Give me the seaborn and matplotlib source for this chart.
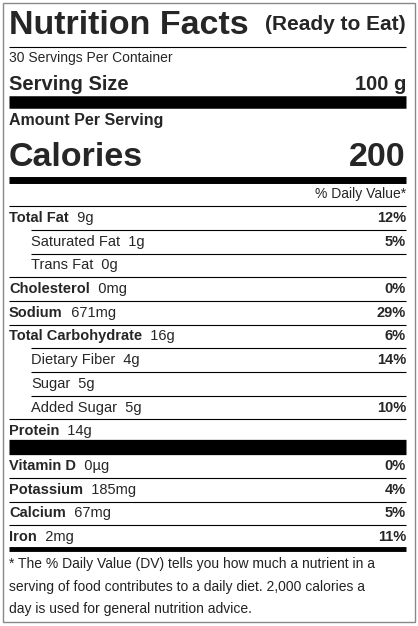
import matplotlib
matplotlib.use("Agg")
import matplotlib.pyplot as plt
import seaborn as sns

nutrients = ["Total Fat", "Saturated Fat", "Trans Fat", "Cholesterol", "Sodium",
             "Total Carbohydrate", "Dietary Fiber", "Sugar", "Added Sugar", "Protein"]
amounts = ["9g", "1g", "0g", "0mg", "671mg", "16g", "4g", "5g", "5g", "14g"]
percents = ["12%", "5%", "", "0%", "29%", "6%", "14%", "", "10%", ""]
indented = [False, True, True, False, False, False, True, True, True, False]

vitamins = ["Vitamin D", "Potassium", "Calcium", "Iron"]
vitamin_amounts = ["0µg", "185mg", "67mg", "2mg"]
vitamin_percents = ["0%", "4%", "5%", "11%"]

footnote = [
    "* The % Daily Value (DV) tells you how much a nutrient in a",
    "serving of food contributes to a daily diet. 2,000 calories a",
    "day is used for general nutrition advice.",
]

sns.set_theme(style="white")
plt.rcParams["font.family"] = ["Liberation Sans", "DejaVu Sans"]

fig = plt.figure(figsize=(4.18, 6.26), dpi=100)
ax = fig.add_axes([0, 0, 1, 1])
ax.set_xlim(0, 418)
ax.set_ylim(626, 0)
ax.axis("off")

LEFT, RIGHT = 9, 406
ax.add_patch(plt.Rectangle((2.5, 2.5), 412, 619, fill=False, lw=1, ec="#888888"))


def rule(y, lw, x0=LEFT):
    ax.plot([x0, RIGHT], [y, y], color="black", lw=lw, solid_capstyle="butt")


ax.text(LEFT, 25, "Nutrition Facts", fontsize=24.5, fontweight="bold", va="center")
ax.text(RIGHT, 25, "(Ready to Eat)", fontsize=15, fontweight="bold", va="center", ha="right")
rule(47, 0.8)
ax.text(LEFT, 58, "30 Servings Per Container", fontsize=10, va="center")
ax.text(LEFT, 84, "Serving Size", fontsize=14.5, fontweight="bold", va="center")
ax.text(RIGHT, 84, "100 g", fontsize=14.5, fontweight="bold", va="center", ha="right")
rule(101.5, 9)
ax.text(LEFT, 121, "Amount Per Serving", fontsize=11.5, fontweight="bold", va="center")
ax.text(LEFT, 157, "Calories", fontsize=24.5, fontweight="bold", va="center")
ax.text(RIGHT, 157, "200", fontsize=24.5, fontweight="bold", va="center", ha="right")
rule(180, 5)
ax.text(RIGHT, 194, "% Daily Value*", fontsize=10, va="center", ha="right")
rule(206, 0.8)

y = 218
step = 23.7
for name, amt, pct, ind in zip(nutrients, amounts, percents, indented):
    x = 31 if ind else LEFT
    weight = "normal" if ind else "bold"
    t = ax.text(x, y, name, fontsize=10.5, fontweight=weight, va="center")
    ax.annotate("  " + amt, xy=(1, 0.5), xycoords=t, fontsize=10.5, va="center")
    if pct:
        ax.text(RIGHT, y, pct, fontsize=10.5, fontweight="bold", va="center", ha="right")
    if name != "Protein":
        nxt = nutrients.index(name) + 1
        rule(y + step / 2, 0.8, 31 if indented[nxt] else LEFT)
    y += step

rule(447, 11)
y = 466
for name, amt, pct in zip(vitamins, vitamin_amounts, vitamin_percents):
    t = ax.text(LEFT, y, name, fontsize=10.5, fontweight="bold", va="center")
    ax.annotate("  " + amt, xy=(1, 0.5), xycoords=t, fontsize=10.5, va="center")
    ax.text(RIGHT, y, pct, fontsize=10.5, fontweight="bold", va="center", ha="right")
    if name != "Iron":
        rule(y + step / 2, 0.8)
    y += step

rule(549, 3.5)
for i, line in enumerate(footnote):
    ax.text(LEFT, 564 + i * 22.5, line, fontsize=10, va="center", color="#222222")

fig.savefig("out.png", dpi=100)
